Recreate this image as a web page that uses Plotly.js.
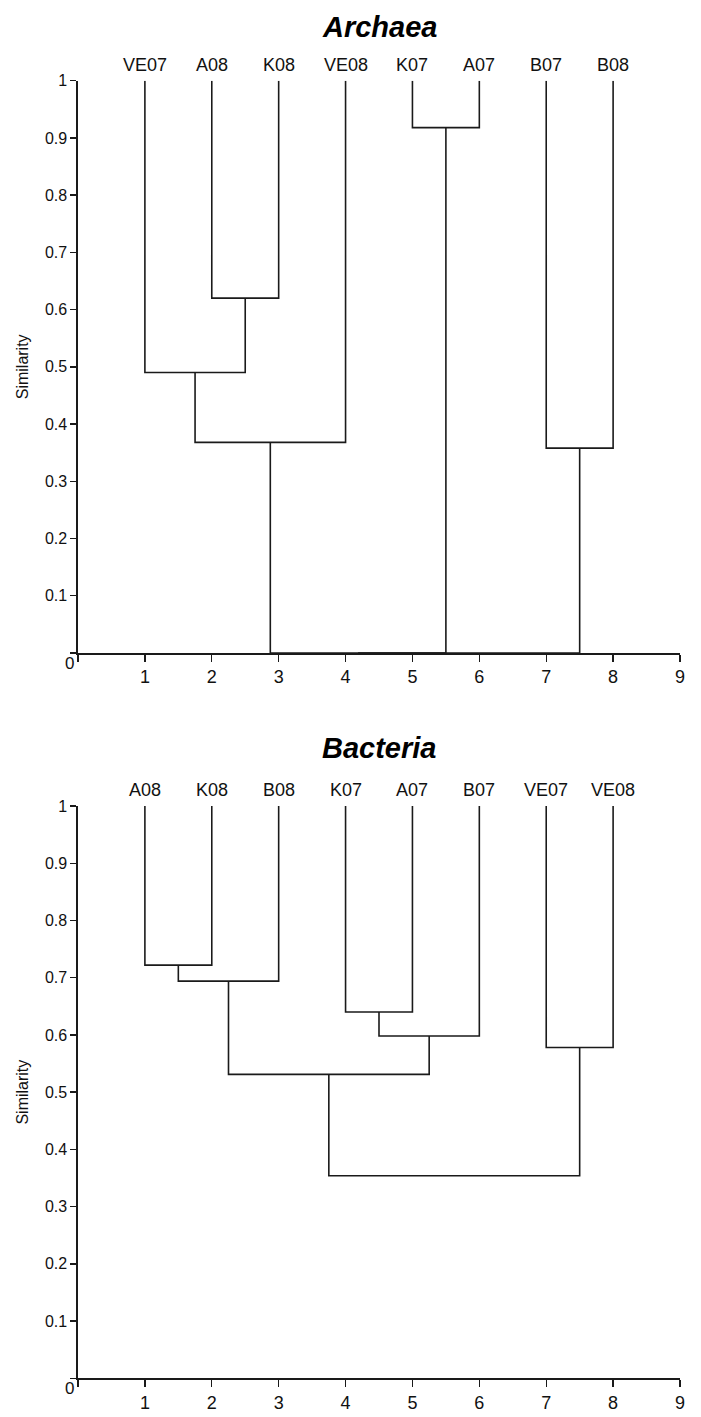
<!DOCTYPE html>
<html>
<head>
<meta charset="utf-8">
<script src="https://cdn.plot.ly/plotly-3.0.1.min.js"></script>
<style>html,body{margin:0;padding:0;background:#fff;}#chart{width:701px;height:1417px;}</style>
</head>
<body>
<div id="chart"></div>
<script>
// ---- Data ----
// Leaves are numbered 0..7 in plot order; merges create nodes 8, 9, ...
var archaeaLabels = ['VE07', 'A08', 'K08', 'VE08', 'K07', 'A07', 'B07', 'B08'];
var archaeaMergeLeft = [1, 0, 9, 4, 6, 10, 13];
var archaeaMergeRight = [2, 8, 3, 5, 7, 11, 12];
var archaeaMergeSimilarity = [0.62, 0.49, 0.368, 0.918, 0.358, 0, 0];

var bacteriaLabels = ['A08', 'K08', 'B08', 'K07', 'A07', 'B07', 'VE07', 'VE08'];
var bacteriaMergeLeft = [0, 8, 3, 10, 9, 6, 12];
var bacteriaMergeRight = [1, 2, 4, 5, 11, 7, 13];
var bacteriaMergeSimilarity = [0.722, 0.694, 0.64, 0.598, 0.531, 0.578, 0.354];

var leafSimilarity = 1;
var xTickVals = [0, 1, 2, 3, 4, 5, 6, 7, 8, 9];
var yTickVals = [0, 0.1, 0.2, 0.3, 0.4, 0.5, 0.6, 0.7, 0.8, 0.9, 1];

// ---- Build dendrogram segments ----
function dendro(labels, left, right, sim) {
  var nx = [], ny = [];
  for (var i = 0; i < labels.length; i++) { nx.push(i + 1); ny.push(leafSimilarity); }
  var xs = [], ys = [];
  for (var m = 0; m < left.length; m++) {
    var a = left[m], b = right[m], h = sim[m];
    xs.push(nx[a], nx[a], nx[b], nx[b], null);
    ys.push(ny[a], h, h, ny[b], null);
    nx.push((nx[a] + nx[b]) / 2); ny.push(h);
  }
  return {x: xs, y: ys};
}

var FONT = 'Liberation Sans, Arial, Helvetica, sans-serif';
var LINE = '#1a1a1a';
var A = dendro(archaeaLabels, archaeaMergeLeft, archaeaMergeRight, archaeaMergeSimilarity);
var B = dendro(bacteriaLabels, bacteriaMergeLeft, bacteriaMergeRight, bacteriaMergeSimilarity);

var traces = [
  {x: A.x, y: A.y, xaxis: 'x', yaxis: 'y', mode: 'lines', line: {color: LINE, width: 1.6}, hoverinfo: 'skip', showlegend: false, cliponaxis: false},
  {x: B.x, y: B.y, xaxis: 'x2', yaxis: 'y2', mode: 'lines', line: {color: LINE, width: 1.6}, hoverinfo: 'skip', showlegend: false, cliponaxis: false}
];

function xAxis(anchor) {
  return {
    anchor: anchor, domain: [0, 1], range: [0, 9], showgrid: false, zeroline: false,
    showline: true, linecolor: LINE, linewidth: 1.8,
    ticks: 'outside', ticklen: 7, tickwidth: 1.4, tickcolor: LINE,
    tickvals: xTickVals, ticktext: xTickVals.map(function (v) { return v === 0 ? '' : String(v); }),
    tickfont: {family: FONT, size: 18, color: '#111'}, fixedrange: true
  };
}
function yAxis(anchor, domain) {
  return {
    anchor: anchor, domain: domain, range: [0, 1], showgrid: false, zeroline: false,
    showline: true, linecolor: LINE, linewidth: 1.6,
    ticks: 'outside', ticklen: 6, tickwidth: 1.4, tickcolor: LINE,
    tickvals: yTickVals, ticktext: yTickVals.map(function (v) { return v === 0 ? '' : String(v); }),
    tickfont: {family: FONT, size: 16, color: '#111'},
    title: {text: 'Similarity', font: {family: FONT, size: 16, color: '#111'}, standoff: 12},
    fixedrange: true
  };
}

var H = 1417;
var topDomain = [1 - 653 / H, 1 - 80.7 / H];
var botDomain = [1 - 1378.3 / H, 1 - 806 / H];

var annotations = [];
function addLeafLabels(labels, xref, yref) {
  labels.forEach(function (t, i) {
    annotations.push({x: i + 1, y: leafSimilarity, xref: xref, yref: yref, text: t, showarrow: false,
      xanchor: 'center', yanchor: 'bottom', yshift: 4, font: {family: FONT, size: 18, color: '#111'}});
  });
  annotations.push({x: 0, y: 0, xref: xref, yref: yref, text: '0', showarrow: false,
    xanchor: 'right', yanchor: 'middle', xshift: -2, yshift: -10, font: {family: FONT, size: 17, color: '#111'}});
}
addLeafLabels(archaeaLabels, 'x', 'y');
addLeafLabels(bacteriaLabels, 'x2', 'y2');
annotations.push({x: 0.5, y: 1 - 27 / H, xref: 'paper', yref: 'paper', text: '<b><i>Archaea</i></b>', showarrow: false,
  xanchor: 'center', yanchor: 'middle', font: {family: FONT, size: 29, color: '#000'}});
annotations.push({x: 0.5, y: 1 - 748 / H, xref: 'paper', yref: 'paper', text: '<b><i>Bacteria</i></b>', showarrow: false,
  xanchor: 'center', yanchor: 'middle', font: {family: FONT, size: 29, color: '#000'}});

var layout = {
  width: 701, height: 1417,
  margin: {l: 78, r: 21, t: 0, b: 0},
  paper_bgcolor: '#fff', plot_bgcolor: '#fff',
  xaxis: xAxis('y'), yaxis: yAxis('x', topDomain),
  xaxis2: xAxis('y2'), yaxis2: yAxis('x2', botDomain),
  annotations: annotations,
  showlegend: false
};

Plotly.newPlot('chart', traces, layout, {staticPlot: true, displayModeBar: false});
</script>
</body>
</html>
